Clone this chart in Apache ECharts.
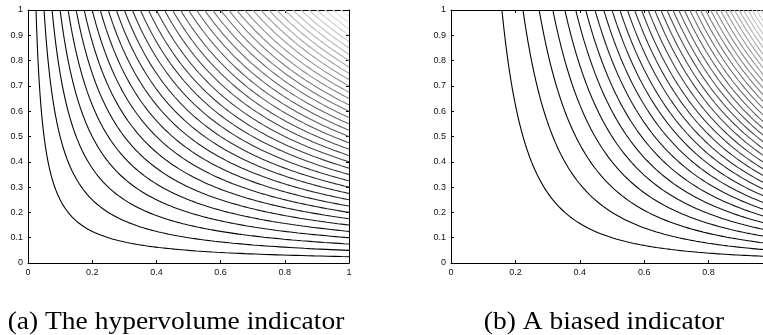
<!DOCTYPE html>
<html>
<head>
<meta charset="utf-8">
<script src="https://cdn.jsdelivr.net/npm/echarts@6/dist/echarts.min.js"></script>
<style>
html,body{margin:0;padding:0;background:#fff;}
#chart{width:763px;height:335px;}
</style>
</head>
<body>
<div id="chart"></div>
<script>
// ---- data ----
var xTicks = [0, 0.2, 0.4, 0.6, 0.8, 1];
var yTicks = [0, 0.1, 0.2, 0.3, 0.4, 0.5, 0.6, 0.7, 0.8, 0.9, 1];
// contour levels of the two indicators (same level set in both panels)
var levelsA = [0.025,0.05,0.075,0.1,0.125,0.15,0.175,0.2,0.225,0.25,0.275,0.3,0.325,0.35,0.375,0.4,0.425,0.45,0.475,0.5,0.525,0.55,0.575,0.6,0.625,0.65,0.675,0.7,0.725,0.75,0.775,0.8,0.825,0.85,0.875,0.9,0.925,0.95,0.975];
var levelsB = [0.025,0.05,0.075,0.1,0.125,0.15,0.175,0.2,0.225,0.25,0.275,0.3,0.325,0.35,0.375,0.4,0.425,0.45,0.475,0.5,0.525,0.55,0.575,0.6,0.625,0.65,0.675,0.7,0.725,0.75,0.775,0.8,0.825,0.85,0.875,0.9,0.925,0.95,0.975];
// exponent of x in each indicator: hypervolume x*y, biased x^2*y
var exponentA = 1;
var exponentB = 2;
var captionA = "(a) The hypervolume indicator";
var captionB = "(b) A biased indicator";

// ---- contour tracing of the indicator level sets ----
function contour(level, p) {
  var pts = [];
  var x0 = Math.pow(level, 1 / p);
  var N = 160;
  for (var i = 0; i <= N; i++) {
    var x = x0 * Math.pow(1 / x0, i / N);
    var y = level / Math.pow(x, p);
    if (y > 1) y = 1;
    pts.push([x, y]);
  }
  return pts;
}
function grayFor(level) {
  var g = Math.round(240 * Math.pow(level, 1.4));
  return 'rgb(' + g + ',' + g + ',' + g + ')';
}

var series = [];
levelsA.forEach(function (c) {
  series.push({type:'line', xAxisIndex:0, yAxisIndex:0, data:contour(c, exponentA),
    showSymbol:false, symbol:'none', silent:true, animation:false, smooth:false,
    lineStyle:{color:grayFor(c), width:1.1}});
});
levelsB.forEach(function (c) {
  series.push({type:'line', xAxisIndex:1, yAxisIndex:1, data:contour(c, exponentB),
    showSymbol:false, symbol:'none', silent:true, animation:false, smooth:false,
    lineStyle:{color:grayFor(c), width:1.1}});
});

var labelFont = {fontFamily:'Liberation Sans, Arial, sans-serif', fontSize:9, color:'#111'};
function fmt(v){ return String(+(+v).toFixed(1)); }
function xAx(grid, pos, showLabel) {
  return {type:'value', gridIndex:grid, position:pos, min:xTicks[0], max:xTicks[xTicks.length-1], interval:0.2,
    axisLine:{show:true, onZero:false, lineStyle:{color:'#000', width:1}},
    axisTick:{show:true, inside:true, length:3, lineStyle:{color:'#000', width:1}},
    axisLabel:Object.assign({show:showLabel, margin:5, formatter:fmt}, labelFont),
    splitLine:{show:false}};
}
function yAx(grid, pos, showLabel) {
  return {type:'value', gridIndex:grid, position:pos, min:yTicks[0], max:yTicks[yTicks.length-1], interval:0.1,
    axisLine:{show:true, onZero:false, lineStyle:{color:'#000', width:1}},
    axisTick:{show:true, inside:true, length:3, lineStyle:{color:'#000', width:1}},
    axisLabel:Object.assign({show:showLabel, margin:5, formatter:fmt}, labelFont),
    splitLine:{show:false}};
}

var chart = echarts.init(document.getElementById('chart'), null, {renderer:'canvas'});
chart.setOption({
  animation:false,
  backgroundColor:'#fff',
  grid:[
    {left:28, top:10, width:321, height:253, containLabel:false, outerBoundsMode:'none'},
    {left:451, top:10, width:322, height:253, containLabel:false, outerBoundsMode:'none'}
  ],
  xAxis:[xAx(0,'bottom',true), xAx(1,'bottom',true), xAx(0,'top',false), xAx(1,'top',false)],
  yAxis:[yAx(0,'left',true), yAx(1,'left',true), yAx(0,'right',false), yAx(1,'right',false)],
  series:series,
  graphic:[
    {type:'text', x:176, y:322, scaleX:1.1, originX:0, style:{text:captionA, fontFamily:'Liberation Serif, Times New Roman, serif', fontSize:25, fill:'#000', align:'center', verticalAlign:'middle'}},
    {type:'text', x:604, y:322, scaleX:1.1, originX:0, style:{text:captionB, fontFamily:'Liberation Serif, Times New Roman, serif', fontSize:25, fill:'#000', align:'center', verticalAlign:'middle'}}
  ]
});
</script>
</body>
</html>
